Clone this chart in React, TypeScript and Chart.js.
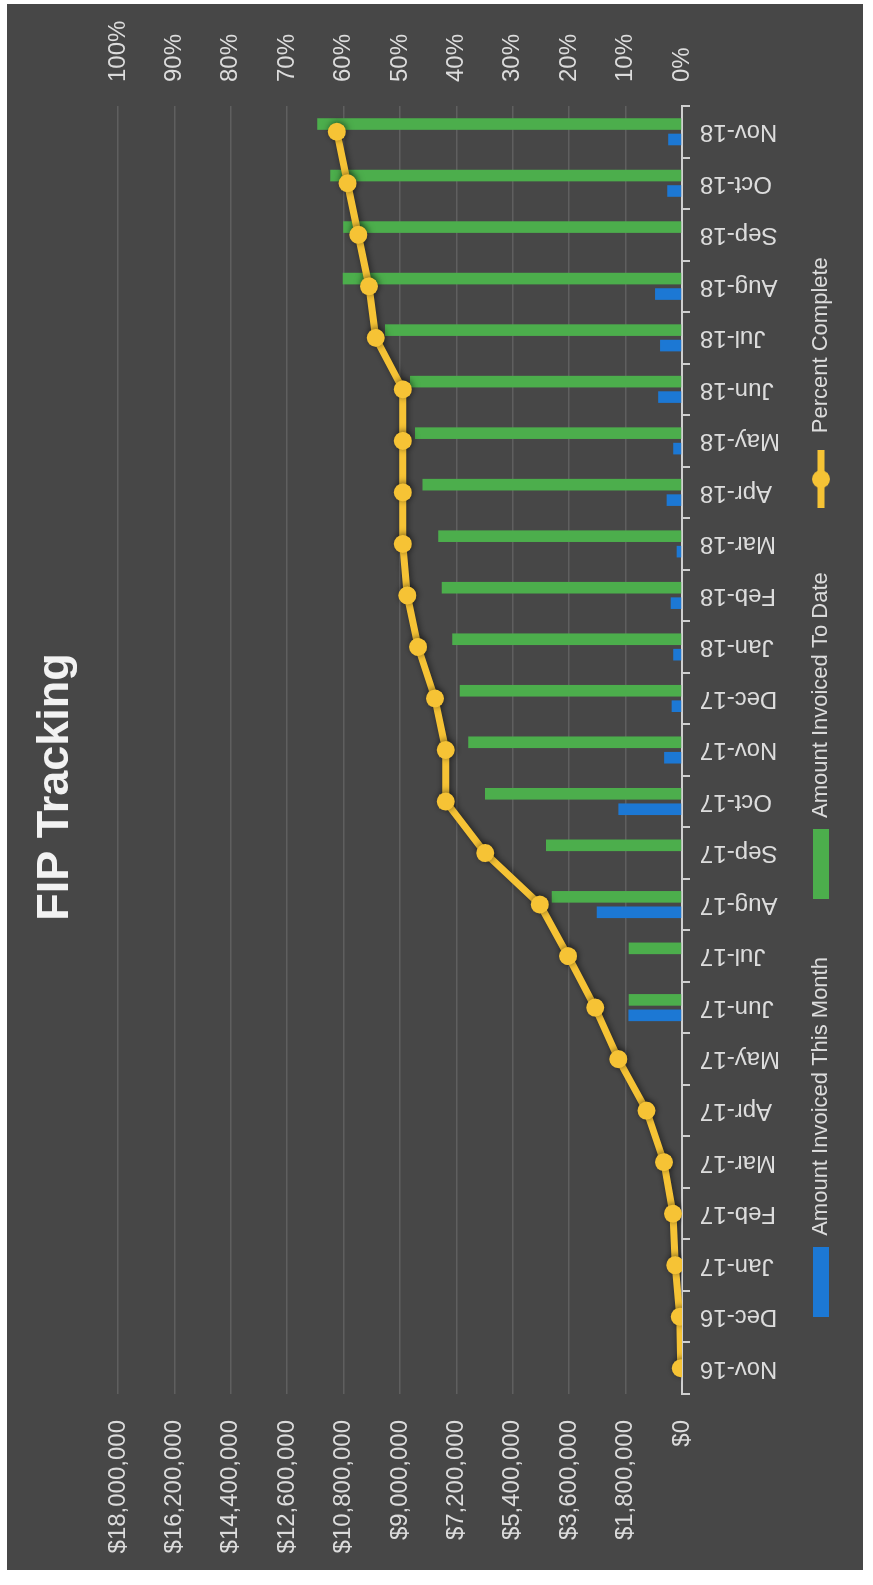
import React, { useEffect, useRef } from 'react';
import { Chart, registerables } from 'chart.js';

Chart.register(...registerables);

const categories = [
  'Nov-16', 'Dec-16', 'Jan-17', 'Feb-17', 'Mar-17', 'Apr-17', 'May-17', 'Jun-17', 'Jul-17',
  'Aug-17', 'Sep-17', 'Oct-17', 'Nov-17', 'Dec-17', 'Jan-18', 'Feb-18', 'Mar-18', 'Apr-18',
  'May-18', 'Jun-18', 'Jul-18', 'Aug-18', 'Sep-18', 'Oct-18', 'Nov-18',
];

const invoicedThisMonth = [
  0, 0, 0, 0, 0, 0, 0, 1710000, 0,
  2720000, 0, 2030000, 570000, 330000, 280000, 360000, 170000, 490000,
  280000, 760000, 700000, 860000, 0, 470000, 440000,
];

const invoicedToDate = [
  0, 0, 0, 0, 0, 0, 0, 1700000, 1700000,
  4160000, 4340000, 6290000, 6820000, 7090000, 7330000, 7670000, 7780000, 8280000,
  8520000, 8680000, 9480000, 10830000, 10810000, 11230000, 11640000,
];

const percentComplete = [
  0.002, 0.004, 0.012, 0.016, 0.032, 0.063, 0.113, 0.154, 0.202,
  0.252, 0.349, 0.419, 0.419, 0.438, 0.468, 0.487, 0.495, 0.495,
  0.495, 0.495, 0.543, 0.555, 0.574, 0.593, 0.612,
];

const dollarTickLabels = [
  '$0', '$1,800,000', '$3,600,000', '$5,400,000', '$7,200,000', '$9,000,000',
  '$10,800,000', '$12,600,000', '$14,400,000', '$16,200,000', '$18,000,000',
];

const percentTickLabels = ['0%', '10%', '20%', '30%', '40%', '50%', '60%', '70%', '80%', '90%', '100%'];

const seriesNames = ['Amount Invoiced This Month', 'Amount Invoiced To Date', 'Percent Complete'];
const chartTitle = 'FIP Tracking';

const BLUE = '#1c78d4';
const GREEN = '#4cae4c';
const YELLOW = '#f6c335';
const TEXT = '#dcdcdc';
const AXIS = '#cfcfcf';
const GRID = 'rgba(255,255,255,0.13)';
const BG = '#474747';
const FONT = "'Liberation Sans', Arial, sans-serif";

const W = 1566;
const H = 856;

function boxImage(color: string, w: number, h: number) {
  const c = document.createElement('canvas');
  c.width = w;
  c.height = h;
  const g = c.getContext('2d')!;
  g.fillStyle = color;
  g.fillRect(0, 0, w, h);
  return c;
}

function lineImage(color: string) {
  const c = document.createElement('canvas');
  c.width = 58;
  c.height = 20;
  const g = c.getContext('2d')!;
  g.strokeStyle = color;
  g.lineWidth = 7;
  g.beginPath();
  g.moveTo(0, 10);
  g.lineTo(58, 10);
  g.stroke();
  g.fillStyle = color;
  g.beginPath();
  g.arc(29, 10, 9, 0, Math.PI * 2);
  g.fill();
  return c;
}

const shadowPlugin = {
  id: 'lineShadow',
  beforeDatasetDraw(chart: any, args: any) {
    const ctx = chart.ctx;
    ctx.save();
    if (args.index === 2) {
      ctx.shadowColor = 'rgba(0,0,0,0.55)';
      ctx.shadowBlur = 7;
      ctx.shadowOffsetX = 1;
      ctx.shadowOffsetY = 1;
    }
  },
  afterDatasetDraw(chart: any) {
    chart.ctx.restore();
  },
};

export default function App() {
  const ref = useRef<HTMLCanvasElement | null>(null);

  useEffect(() => {
    if (!ref.current) return;
    const legendImages = [boxImage(BLUE, 70, 16), boxImage(GREEN, 70, 16), lineImage(YELLOW)];
    const chart = new Chart(ref.current, {
      type: 'bar',
      data: {
        labels: categories,
        datasets: [
          {
            type: 'bar',
            label: seriesNames[0],
            data: invoicedThisMonth,
            backgroundColor: BLUE,
            yAxisID: 'y',
            order: 1,
            categoryPercentage: 0.6,
            barPercentage: 0.75,
          },
          {
            type: 'bar',
            label: seriesNames[1],
            data: invoicedToDate,
            backgroundColor: GREEN,
            yAxisID: 'y',
            order: 1,
            categoryPercentage: 0.6,
            barPercentage: 0.75,
          },
          {
            type: 'line',
            label: seriesNames[2],
            data: percentComplete,
            borderColor: YELLOW,
            backgroundColor: YELLOW,
            borderWidth: 7,
            pointRadius: 9,
            pointBackgroundColor: YELLOW,
            pointBorderWidth: 0,
            tension: 0,
            yAxisID: 'y1',
            order: 0,
          } as any,
        ],
      },
      options: {
        responsive: false,
        animation: false,
        devicePixelRatio: 1,
        layout: { padding: { left: 0, right: 0, top: 0, bottom: 21 } },
        plugins: {
          title: {
            display: true,
            text: chartTitle,
            color: '#f2f2f2',
            font: { family: FONT, size: 45, weight: 'bold', lineHeight: 1.2 },
            padding: { top: 22, bottom: 35 },
          },
          legend: {
            position: 'bottom',
            labels: {
              usePointStyle: true,
              pointStyleWidth: 70,
              boxHeight: 16,
              padding: 58,
              color: TEXT,
              font: { family: FONT, size: 22 },
              generateLabels: () =>
                seriesNames.map((name, i) => ({
                  text: name,
                  fillStyle: [BLUE, GREEN, YELLOW][i],
                  strokeStyle: [BLUE, GREEN, YELLOW][i],
                  lineWidth: 0,
                  pointStyle: legendImages[i] as any,
                  hidden: false,
                  datasetIndex: i,
                  fontColor: TEXT,
                })),
            },
          },
          tooltip: { enabled: false },
        },
        scales: {
          x: {
            offset: true,
            grid: {
              drawOnChartArea: false,
              drawTicks: true,
              tickLength: 8,
              color: AXIS,
              lineWidth: 2,
              offset: true,
            },
            border: { display: true, color: AXIS, width: 2 },
            ticks: {
              minRotation: 90,
              maxRotation: 90,
              autoSkip: false,
              padding: 10,
              color: TEXT,
              font: { family: FONT, size: 24 },
            },
            afterFit: (s: any) => {
              s.height = 70;
              // let the rotated category labels extend into the empty band above the legend
              s._computeLabelArea = () => undefined;
            },
          },
          y: {
            position: 'left',
            min: 0,
            max: 18000000,
            ticks: {
              stepSize: 1800000,
              padding: 26,
              color: TEXT,
              font: { family: FONT, size: 24 },
              callback: (_v: any, i: number) => dollarTickLabels[i] ?? '',
            },
            grid: { color: GRID, lineWidth: 1.5, drawTicks: false },
            border: { display: false },
            afterFit: (s: any) => {
              s.width = 176;
            },
          },
          y1: {
            position: 'right',
            min: 0,
            max: 1,
            ticks: {
              stepSize: 0.1,
              padding: 24,
              color: TEXT,
              font: { family: FONT, size: 24 },
              callback: (_v: any, i: number) => percentTickLabels[i] ?? '',
            },
            grid: { drawOnChartArea: false, drawTicks: false },
            border: { display: false },
            afterFit: (s: any) => {
              s.width = 102;
            },
          },
        },
      } as any,
      plugins: [shadowPlugin],
    });
    return () => chart.destroy();
  }, []);

  return (
    <div
      style={{
        position: 'absolute',
        left: 0,
        top: 0,
        width: 873,
        height: 1585,
        background: '#ffffff',
        overflow: 'hidden',
      }}
    >
      <div
        style={{
          position: 'absolute',
          left: 7,
          top: 4,
          width: H,
          height: W,
          background: BG,
          overflow: 'hidden',
        }}
      >
        <div
          style={{
            position: 'absolute',
            left: 0,
            top: 0,
            width: W,
            height: H,
            transformOrigin: '0 0',
            transform: `translate(0px, ${W}px) rotate(-90deg)`,
          }}
        >
          <canvas ref={ref} width={W} height={H} style={{ width: W, height: H, display: 'block' }} />
        </div>
      </div>
    </div>
  );
}
